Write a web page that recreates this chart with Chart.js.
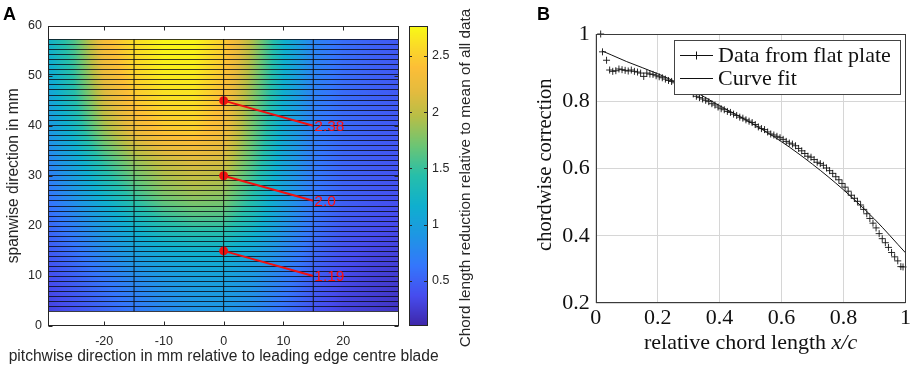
<!DOCTYPE html>
<html><head><meta charset="utf-8">
<script src="https://cdn.jsdelivr.net/npm/chart.js@4/dist/chart.umd.min.js"></script>
<style>
html,body{margin:0;padding:0;background:#fff;width:913px;height:368px;overflow:hidden;}
#a{position:absolute;left:0;top:0;}
#b{position:absolute;left:480px;top:0;}
</style></head><body>
<canvas id="a" width="480" height="368"></canvas>
<canvas id="b" width="433" height="368"></canvas>
<script>
// ---------- Panel A data ----------
const pitchX = [-29.4,-25,-20,-15,-10,-5,0,5,10,15,20,25,29.4];
const spanY = [2.9,9,15,21,27,33,39,45,51,57.3];
const reduction_y03 = [0.30,0.40,0.52,0.65,0.78,0.87,0.90,0.80,0.60,0.42,0.30,0.25,0.20];
const reduction_y09 = [0.36,0.48,0.63,0.78,0.90,0.98,1.00,0.90,0.70,0.48,0.35,0.28,0.24];
const reduction_y15 = [0.45,0.60,0.82,1.00,1.12,1.18,1.19,1.05,0.80,0.55,0.40,0.33,0.30];
const reduction_y21 = [0.55,0.75,1.00,1.25,1.45,1.55,1.55,1.30,0.92,0.62,0.46,0.40,0.36];
const reduction_y27 = [0.65,0.90,1.25,1.55,1.80,1.90,1.85,1.45,1.00,0.66,0.50,0.44,0.40];
const reduction_y33 = [0.75,1.05,1.50,1.85,2.05,2.15,2.10,1.60,1.05,0.68,0.52,0.46,0.42];
const reduction_y39 = [0.90,1.25,1.85,2.25,2.45,2.50,2.30,1.70,1.10,0.70,0.55,0.48,0.44];
const reduction_y45 = [1.00,1.40,2.10,2.45,2.60,2.62,2.38,1.78,1.15,0.72,0.56,0.50,0.45];
const reduction_y51 = [1.10,1.50,2.25,2.55,2.70,2.70,2.45,1.85,1.18,0.75,0.58,0.50,0.45];
const reduction_y57 = [1.20,1.60,2.35,2.60,2.75,2.75,2.50,1.90,1.20,0.75,0.58,0.50,0.45];
const pitchTicks = [-20,-10,0,10,20];
const spanTicks = [0,10,20,30,40,50,60];
const colorLimits = [0.1,2.77];
const colorbarTicks = [0.5,1,1.5,2,2.5];
const bladeX = [-15,0,15];
const probeX = 0;
const probeY = [45,30,15];
const probeLabelX = 15;
const probeLabelY = [40,25,10];
const probeLabels = ['2.38','2.0','1.19'];

// ---------- Panel B data ----------
const chordX = [0.016,0.022,0.035,0.045,0.055,0.065,0.075,0.085,0.095,0.105,0.115,0.125,0.135,0.145,0.155,0.165,0.175,0.185,0.195,0.205,0.215,0.225,0.235,0.245,0.255,0.265,0.275,0.285,0.295,0.305,0.315,0.325,0.335,0.345,0.355,0.365,0.375,0.385,0.395,0.405,0.415,0.425,0.435,0.445,0.455,0.465,0.475,0.485,0.495,0.505,0.515,0.525,0.535,0.545,0.555,0.565,0.575,0.585,0.595,0.605,0.615,0.625,0.635,0.645,0.655,0.665,0.675,0.685,0.695,0.705,0.715,0.725,0.735,0.745,0.755,0.765,0.775,0.785,0.795,0.805,0.815,0.825,0.835,0.845,0.855,0.865,0.875,0.885,0.895,0.905,0.915,0.925,0.935,0.945,0.955,0.965,0.975,0.985,0.992];
const flatPlate = [1.000,0.947,0.922,0.893,0.889,0.891,0.896,0.894,0.892,0.890,0.893,0.889,0.887,0.884,0.874,0.884,0.881,0.880,0.876,0.873,0.870,0.866,0.862,0.859,0.855,0.852,0.848,0.843,0.838,0.832,0.822,0.815,0.811,0.807,0.803,0.799,0.793,0.789,0.783,0.778,0.775,0.770,0.767,0.762,0.758,0.753,0.750,0.745,0.741,0.737,0.731,0.724,0.719,0.716,0.709,0.703,0.700,0.696,0.692,0.687,0.681,0.676,0.673,0.668,0.660,0.653,0.645,0.637,0.634,0.627,0.619,0.615,0.610,0.602,0.594,0.586,0.576,0.567,0.556,0.545,0.533,0.521,0.512,0.503,0.492,0.479,0.466,0.452,0.438,0.424,0.407,0.392,0.380,0.366,0.351,0.338,0.326,0.309,0.308];
const fitX = [0.02,0.05,0.1,0.2,0.3,0.4,0.5,0.6,0.7,0.8,0.9,1.0];
const curveFit = [0.950,0.938,0.918,0.882,0.839,0.787,0.737,0.680,0.613,0.537,0.450,0.350];
const chordTicks = [0,0.2,0.4,0.6,0.8,1];
const correctionTicks = [0.2,0.4,0.6,0.8,1];

// ---------- helpers ----------
const parulaStops = [
 [0.00,[62,38,168]],[0.10,[70,76,238]],[0.20,[52,118,252]],[0.30,[30,150,228]],
 [0.40,[15,175,206]],[0.50,[38,190,170]],[0.60,[108,197,116]],[0.70,[185,190,70]],
 [0.78,[228,187,62]],[0.86,[252,190,55]],[0.93,[250,218,40]],[1.00,[249,251,21]]];
function parula(t){
  t = Math.max(0,Math.min(1,t));
  for (let i=0;i<parulaStops.length-1;i++){
    const [t0,c0]=parulaStops[i],[t1,c1]=parulaStops[i+1];
    if (t<=t1){const f=(t-t0)/(t1-t0);return [0,1,2].map(k=>Math.round(c0[k]+(c1[k]-c0[k])*f));}
  }
  return parulaStops[parulaStops.length-1][1];
}
const reductionRows = [reduction_y03,reduction_y09,reduction_y15,reduction_y21,reduction_y27,reduction_y33,reduction_y39,reduction_y45,reduction_y51,reduction_y57];
function seg(arr,v){
  let i=0; while(i<arr.length-2 && v>arr[i+1]) i++;
  let f=(v-arr[i])/(arr[i+1]-arr[i]); f=Math.max(0,Math.min(1,f)); return [i,f];
}
function sampleField(vx,vy){
  const [i,fx]=seg(pitchX,vx),[j,fy]=seg(spanY,vy);
  const a=reductionRows[j][i]*(1-fx)+reductionRows[j][i+1]*fx;
  const b=reductionRows[j+1][i]*(1-fx)+reductionRows[j+1][i+1]*fx;
  return a*(1-fy)+b*fy;
}
const TXT='#262626';
const SANS='"Liberation Sans", Arial, sans-serif';
const SERIF='"Liberation Serif", "Times New Roman", serif';

// ---------- Panel A ----------
const heatPlugin = {
  id:'heat',
  beforeDatasetsDraw(chart){
    const {ctx,scales:{x,y}} = chart;
    const left=Math.round(x.getPixelForValue(pitchX[0])), right=Math.round(x.getPixelForValue(pitchX[pitchX.length-1]));
    const top=Math.round(y.getPixelForValue(spanY[spanY.length-1])), bottom=Math.round(y.getPixelForValue(spanY[0]));
    const w=right-left,h=bottom-top;
    const img=ctx.createImageData(w,h);
    for(let jj=0;jj<h;jj++){
      const vy=y.getValueForPixel(top+jj+0.5);
      for(let ii=0;ii<w;ii++){
        const vx=x.getValueForPixel(left+ii+0.5);
        const c=parula((sampleField(vx,vy)-colorLimits[0])/(colorLimits[1]-colorLimits[0]));
        const k=(jj*w+ii)*4; img.data[k]=c[0];img.data[k+1]=c[1];img.data[k+2]=c[2];img.data[k+3]=255;
      }
    }
    ctx.putImageData(img,left,top);
    // mesh row edges (1 mm spacing)
    ctx.save();
    ctx.strokeStyle='rgba(10,10,20,0.8)'; ctx.lineWidth=1;
    const y0=spanY[0], y1=spanY[spanY.length-1], n=54;
    ctx.beginPath();
    for(let k=0;k<=n;k++){
      const py=Math.round(y.getPixelForValue(y0+(y1-y0)*k/n))+0.5;
      ctx.moveTo(left,py); ctx.lineTo(right,py);
    }
    ctx.stroke(); ctx.restore();
  },
  afterDatasetsDraw(chart){
    const {ctx,scales:{x,y,cb},chartArea:ca} = chart;
    ctx.save();
    // probe labels
    ctx.fillStyle='#ff1010'; ctx.font='15.5px '+SANS; ctx.textAlign='left'; ctx.textBaseline='middle';
    probeLabels.forEach((t,i)=>ctx.fillText(t,x.getPixelForValue(probeLabelX)+1,y.getPixelForValue(probeLabelY[i])+1));
    // axes box
    ctx.strokeStyle=TXT; ctx.lineWidth=1;
    const L=Math.round(ca.left)+0.5,R=Math.round(ca.right)-0.5,T=Math.round(ca.top)+0.5,B=Math.round(ca.bottom)-0.5;
    ctx.strokeRect(L,T,R-L,B-T);
    ctx.beginPath();
    pitchTicks.forEach(v=>{const px=Math.round(x.getPixelForValue(v))+0.5;ctx.moveTo(px,B);ctx.lineTo(px,B-4);ctx.moveTo(px,T);ctx.lineTo(px,T+4);});
    spanTicks.forEach(v=>{const py=Math.round(y.getPixelForValue(v))+0.5;ctx.moveTo(L,py);ctx.lineTo(L+4,py);ctx.moveTo(R,py);ctx.lineTo(R-4,py);});
    ctx.stroke();
    // colorbar
    const cbL=409,cbR=428;
    const cT=Math.round(cb.getPixelForValue(colorLimits[1])), cB=Math.round(cb.getPixelForValue(colorLimits[0]));
    for(let py=cT;py<cB;py++){
      const c=parula((cb.getValueForPixel(py+0.5)-colorLimits[0])/(colorLimits[1]-colorLimits[0]));
      ctx.fillStyle=`rgb(${c[0]},${c[1]},${c[2]})`; ctx.fillRect(cbL,py,cbR-cbL,1);
    }
    ctx.strokeStyle=TXT; ctx.strokeRect(cbL+0.5,cT+0.5,cbR-cbL-1,cB-cT-1);
    ctx.beginPath();
    colorbarTicks.forEach(v=>{const py=Math.round(cb.getPixelForValue(v))+0.5;ctx.moveTo(cbR-0.5,py);ctx.lineTo(cbR-4,py);ctx.moveTo(cbL+0.5,py);ctx.lineTo(cbL+3,py);});
    ctx.stroke();
    ctx.fillStyle=TXT; ctx.font='12.5px '+SANS; ctx.textAlign='left'; ctx.textBaseline='middle';
    colorbarTicks.forEach(v=>ctx.fillText(String(v),432,cb.getPixelForValue(v)));
    // titles
    ctx.font='15.6px '+SANS; ctx.textAlign='center'; ctx.textBaseline='middle';
    ctx.fillText('pitchwise direction in mm relative to leading edge centre blade',(ca.left+ca.right)/2,357);
    ctx.save(); ctx.translate(14,(ca.top+ca.bottom)/2); ctx.rotate(-Math.PI/2);
    ctx.fillText('spanwise direction in mm',0,0); ctx.restore();
    ctx.font='15.3px '+SANS;
    ctx.save(); ctx.translate(466,(cT+cB)/2+2); ctx.rotate(-Math.PI/2);
    ctx.fillText('Chord length reduction relative to mean of all data',0,0); ctx.restore();
    ctx.font='bold 18px '+SANS; ctx.textAlign='left'; ctx.textBaseline='alphabetic'; ctx.fillStyle='#000';
    ctx.fillText('A',3,20);
    ctx.restore();
  }
};

const dsA = [];
bladeX.forEach(bx=>dsA.push({type:'line',data:[{x:bx,y:spanY[0]},{x:bx,y:spanY[spanY.length-1]}],borderColor:'#111',borderWidth:1,pointRadius:0}));
probeY.forEach((py,i)=>dsA.push({type:'line',data:[{x:probeX,y:py},{x:probeLabelX,y:probeLabelY[i]}],borderColor:'#f01010',borderWidth:2,
  pointRadius:c=>c.dataIndex===0?4.5:0,pointBackgroundColor:'#f01010',pointBorderWidth:0}));

new Chart(document.getElementById('a'),{
  type:'scatter',
  data:{datasets:dsA},
  options:{
    responsive:false,animation:false,devicePixelRatio:1,
    layout:{padding:{top:25.5,right:80.7,left:0,bottom:0}},
    plugins:{legend:{display:false},tooltip:{enabled:false}},
    scales:{
      x:{type:'linear',min:-29.4,max:29.4,
        afterBuildTicks:s=>{s.ticks=pitchTicks.map(v=>({value:v}));},
        afterFit:s=>{s.height=42;},
        grid:{display:false,drawTicks:false},border:{display:false},
        ticks:{font:{family:SANS,size:12.5},color:TXT,padding:8,maxRotation:0,autoSkip:false,callback:v=>String(v)}},
      y:{type:'linear',min:0,max:60,
        afterBuildTicks:s=>{s.ticks=spanTicks.map(v=>({value:v}));},
        afterFit:s=>{s.width=48;},
        grid:{display:false,drawTicks:false},border:{display:false},
        ticks:{font:{family:SANS,size:12.5},color:TXT,padding:6,autoSkip:false,callback:v=>String(v)}},
      cb:{type:'linear',axis:'y',position:'right',display:false,min:colorLimits[0],max:colorLimits[1]}
    }
  },
  plugins:[heatPlugin]
});

// ---------- Panel B ----------
const framePlugin = {
  id:'frameB',
  afterDatasetsDraw(chart){
    const {ctx,chartArea:ca} = chart;
    ctx.save();
    ctx.strokeStyle='#3a3a3a'; ctx.lineWidth=1;
    const L=Math.round(ca.left)+0.5,R=Math.round(ca.right)-0.5,T=Math.round(ca.top)+0.5,B=Math.round(ca.bottom)-0.5;
    ctx.strokeRect(L,T,R-L,B-T);
    // legend
    const lx=194.5,ly=40.5,lw=226,lh=54;
    ctx.fillStyle='#fff'; ctx.fillRect(lx,ly,lw,lh);
    ctx.strokeStyle='#444'; ctx.strokeRect(lx,ly,lw,lh);
    ctx.strokeStyle='#111'; ctx.beginPath();
    ctx.moveTo(200,55.5);ctx.lineTo(233,55.5);
    ctx.moveTo(216.5,51.5);ctx.lineTo(216.5,59.5);
    ctx.moveTo(200,78.5);ctx.lineTo(233,78.5);
    ctx.stroke();
    ctx.fillStyle='#111'; ctx.font='22px '+SERIF; ctx.textAlign='left'; ctx.textBaseline='middle';
    ctx.fillText('Data from flat plate',238,56);
    ctx.fillText('Curve fit',238,79);
    // axis titles
    const t1='relative chord length ', t2='x/c';
    ctx.font='22px '+SERIF; const w1=ctx.measureText(t1).width;
    ctx.font='italic 22px '+SERIF; const w2=ctx.measureText(t2).width;
    const cx=(ca.left+ca.right)/2, sx=cx-(w1+w2)/2;
    ctx.textAlign='left';
    ctx.font='22px '+SERIF; ctx.fillText(t1,sx,343);
    ctx.font='italic 22px '+SERIF; ctx.fillText(t2,sx+w1,343);
    ctx.save(); ctx.translate(66,(ca.top+ca.bottom)/2-4); ctx.rotate(-Math.PI/2);
    ctx.textAlign='center'; ctx.font='20.5px '+SERIF; ctx.fillText('chordwise correction',0,0); ctx.restore();
    ctx.fillStyle='#000'; ctx.font='bold 18px '+SANS; ctx.textBaseline='alphabetic';
    ctx.fillText('B',57,20);
    ctx.restore();
  }
};

new Chart(document.getElementById('b'),{
  type:'line',
  data:{datasets:[
    {label:'Data from flat plate',data:chordX.map((v,i)=>({x:v,y:flatPlate[i]})),showLine:false,clip:false,
     pointStyle:'cross',pointRadius:3.5,pointBorderWidth:1,borderColor:'rgba(20,20,20,0.9)',backgroundColor:'rgba(20,20,20,0.9)'},
    {label:'Curve fit',data:fitX.map((v,i)=>({x:v,y:curveFit[i]})),borderColor:'#111',borderWidth:1,pointRadius:0,cubicInterpolationMode:'monotone'}
  ]},
  options:{
    responsive:false,animation:false,devicePixelRatio:1,
    layout:{padding:{top:34,right:6.3,left:0,bottom:0}},
    plugins:{legend:{display:false},tooltip:{enabled:false}},
    scales:{
      x:{type:'linear',min:0,max:1,
        afterBuildTicks:s=>{s.ticks=chordTicks.map(v=>({value:v}));},
        afterFit:s=>{s.height=64.7;},
        grid:{color:'#d6d6d6',drawTicks:false},border:{display:false},
        ticks:{font:{family:SERIF,size:22},color:'#111',padding:2,maxRotation:0,autoSkip:false,callback:v=>String(v)}},
      y:{type:'linear',min:0.2,max:1,
        afterBuildTicks:s=>{s.ticks=correctionTicks.map(v=>({value:v}));},
        afterFit:s=>{s.width=115.7;},
        grid:{color:'#d6d6d6',drawTicks:false},border:{display:false},
        ticks:{font:{family:SERIF,size:22},color:'#111',padding:6,autoSkip:false,callback:v=>String(v)}}
    }
  },
  plugins:[framePlugin]
});
</script>
</body></html>
